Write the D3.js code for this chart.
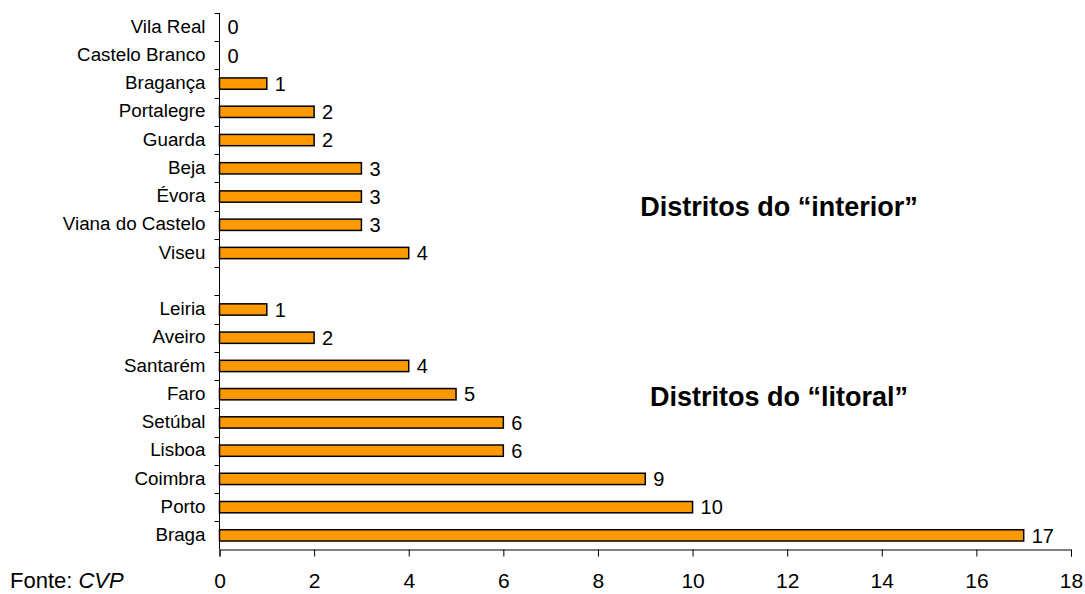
<!DOCTYPE html>
<html>
<head>
<meta charset="utf-8">
<script src="https://cdn.jsdelivr.net/npm/d3@7"></script>
<style>
  html, body { margin: 0; padding: 0; background: #fff; }
  svg { display: block; font-family: "Liberation Sans", Arial, sans-serif; }
</style>
</head>
<body>
<svg id="chart" width="1085" height="594"></svg>
<script>
// Districts, top to bottom; the empty entry separates the two groups
const districts = [
  "Vila Real", "Castelo Branco", "Bragança", "Portalegre", "Guarda",
  "Beja", "Évora", "Viana do Castelo", "Viseu",
  "",
  "Leiria", "Aveiro", "Santarém", "Faro", "Setúbal", "Lisboa",
  "Coimbra", "Porto", "Braga"
];
const counts = [
  0, 0, 1, 2, 2,
  3, 3, 3, 4,
  null,
  1, 2, 4, 5, 6, 6,
  9, 10, 17
];
const xTicks = [0, 2, 4, 6, 8, 10, 12, 14, 16, 18];
const groupLabels = ["Distritos do \u201Cinterior\u201D", "Distritos do \u201Clitoral\u201D"];

const rows = districts.map((name, i) => ({ key: name || "gap" + i, name, value: counts[i] }));

const svg = d3.select("#chart");
const plotLeft = 219.5, plotRight = 1071, plotTop = 13, plotBottom = 549.5;

const x = d3.scaleLinear().domain([0, 18]).range([plotLeft, plotRight]);
const y = d3.scaleBand()
  .domain(rows.map(d => d.key))
  .range([plotTop, plotBottom])
  .paddingInner(0.6)
  .paddingOuter(0.3);

const step = y.step();
const bandStart = k => y(k) - step * y.paddingInner() / 2;

// Bars
svg.append("g").selectAll("rect")
  .data(rows.filter(d => d.value > 0))
  .join("rect")
  .attr("x", x(0))
  .attr("y", d => y(d.key))
  .attr("width", d => x(d.value) - x(0))
  .attr("height", y.bandwidth())
  .attr("fill", "#FF9900")
  .attr("stroke", "#000")
  .attr("stroke-width", 1.5);

// Value labels
svg.append("g").selectAll("text")
  .data(rows.filter(d => d.value !== null))
  .join("text")
  .attr("x", d => x(d.value) + 8)
  .attr("y", d => y(d.key) + y.bandwidth() / 2)
  .attr("dy", "0.36em")
  .attr("font-size", 20)
  .attr("fill", "#000")
  .text(d => d.value);

// Category axis: line, boundary ticks, labels
const yAxis = svg.append("g");
yAxis.append("line")
  .attr("x1", plotLeft).attr("x2", plotLeft)
  .attr("y1", plotTop).attr("y2", plotBottom)
  .attr("stroke", "#000").attr("stroke-width", 1);
yAxis.selectAll("line.tick")
  .data(rows)
  .join("line")
  .attr("class", "tick")
  .attr("x1", plotLeft - 5).attr("x2", plotLeft)
  .attr("y1", d => Math.round(bandStart(d.key)) + 0.5)
  .attr("y2", d => Math.round(bandStart(d.key)) + 0.5)
  .attr("stroke", "#000");
yAxis.selectAll("text")
  .data(rows.filter(d => d.name))
  .join("text")
  .attr("x", plotLeft - 14)
  .attr("y", d => y(d.key) + y.bandwidth() / 2)
  .attr("dy", "0.3em")
  .attr("text-anchor", "end")
  .attr("font-size", 18.8)
  .attr("fill", "#000")
  .text(d => d.name);

// Value axis
const xAxis = svg.append("g")
  .attr("transform", `translate(0,${plotBottom})`)
  .call(d3.axisBottom(x).tickValues(xTicks).tickSize(7).tickPadding(17).tickFormat(d3.format("d")));
xAxis.select(".domain").attr("stroke", "#000");
xAxis.selectAll(".tick line").attr("stroke", "#000");
xAxis.selectAll(".tick text")
  .attr("font-size", 21)
  .attr("font-family", "\"Liberation Sans\", Arial, sans-serif")
  .attr("fill", "#000");

// Group annotations
svg.append("text")
  .attr("x", 779).attr("y", 216)
  .attr("text-anchor", "middle")
  .attr("font-size", 27).attr("font-weight", "bold")
  .text(groupLabels[0]);
svg.append("text")
  .attr("x", 779).attr("y", 406)
  .attr("text-anchor", "middle")
  .attr("font-size", 27).attr("font-weight", "bold")
  .text(groupLabels[1]);

// Source note
const src = svg.append("text")
  .attr("x", 10).attr("y", 588)
  .attr("font-size", 22);
src.append("tspan").text("Fonte: ");
src.append("tspan").attr("font-style", "italic").text("CVP");
</script>
</body>
</html>
